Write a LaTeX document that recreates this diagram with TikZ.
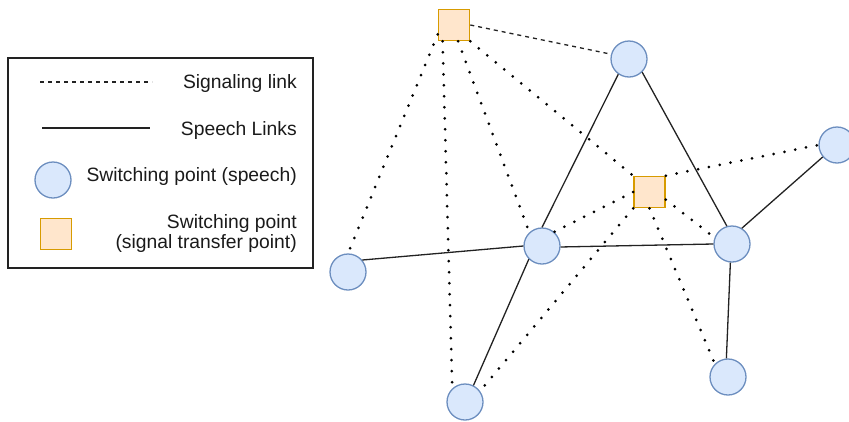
\documentclass[tikz,border=0pt]{standalone}
\usepackage{fontspec}
\setmainfont{Liberation Sans}
\definecolor{swfill}{HTML}{DAE8FC}
\definecolor{swline}{HTML}{6C8EBF}
\definecolor{stpfill}{HTML}{FFE6CC}
\definecolor{stpline}{HTML}{D79B00}
\definecolor{linkc}{HTML}{222222}
\definecolor{txtc}{HTML}{1A1A1A}
\begin{document}
\begin{tikzpicture}[x=1pt,y=-1pt,
  sw/.style={circle,draw=swline,fill=swfill,line width=1.3pt,minimum size=36pt,inner sep=0pt},
  stp/.style={rectangle,draw=stpline,fill=stpfill,line width=1.6pt,minimum size=31pt,inner sep=0pt},
  speech/.style={draw=linkc,line width=1.3pt},
  sig/.style={draw=black,line width=3pt,line cap=round,dash pattern=on 0pt off 11pt},
  sigdash/.style={draw=linkc,line width=1.3pt,dash pattern=on 4pt off 4pt},
  lbl/.style={font=\fontsize{19.3}{23}\selectfont,text=txtc,anchor=base east,inner sep=0pt}]
\useasboundingbox (0,0) rectangle (849,421);

% legend
\node[draw=linkc,line width=1.3pt,minimum width=305pt,minimum height=210pt,inner sep=0pt] (legend) at (160.5,163) {};
\coordinate (ls1) at (40,82);  \coordinate (ls2) at (152,82);
\coordinate (lp1) at (42,128); \coordinate (lp2) at (150,128);
\draw[sigdash] (ls1) -- (ls2);
\draw[speech] (lp1) -- (lp2);
\node[sw] (lsw) at (53,180) {};
\node[stp] (lstp) at (56,234) {};
\node[lbl] (t1) at (297,88) {Signaling link};
\node[lbl] (t2) at (297,135) {Speech Links};
\node[lbl] (t3) at (297,181) {Switching point (speech)};
\node[lbl] (t4) at (297,228) {Switching point};
\node[lbl] (t5) at (297,248) {(signal transfer point)};

% switching points
\node[sw] (a) at (629,59) {};
\node[sw] (b) at (348,272) {};
\node[sw] (c) at (542,246) {};
\node[sw] (d) at (732,244) {};
\node[sw] (e) at (837,145) {};
\node[sw] (f) at (465,402) {};
\node[sw] (g) at (728,377) {};

% signal transfer points
\node[stp] (p) at (454,25) {};
\node[stp] (q) at (649.5,192) {};

% speech links
\draw[speech] (b.40) -- (c.180);
\draw[speech] (c.-3) -- (d.180);
\draw[speech] (c.90) -- (a.235);
\draw[speech] (a.-45) -- (d.106);
\draw[speech] (d.58) -- (e.220);
\draw[speech] (d.265) -- (g.95);
\draw[speech] (c.225) -- (f.63);

% signaling links
\draw[sigdash] (p.east) -- (a.165);
\draw[sig] (p.210) -- (b.90);
\draw[sig] (p.235) -- (f.133);
\draw[sig] (p.284) -- (c.133);
\draw[sig] (p.south east) -- (q.north west);
\draw[sig] (q.north east) -- (e.180);
\draw[sig] (q.west) -- (c.49);
\draw[sig] (q.south west) -- (f.36);
\draw[sig] (q.-25) -- (d.160);
\draw[sig] (q.south) -- (g.135);
\end{tikzpicture}
\end{document}
